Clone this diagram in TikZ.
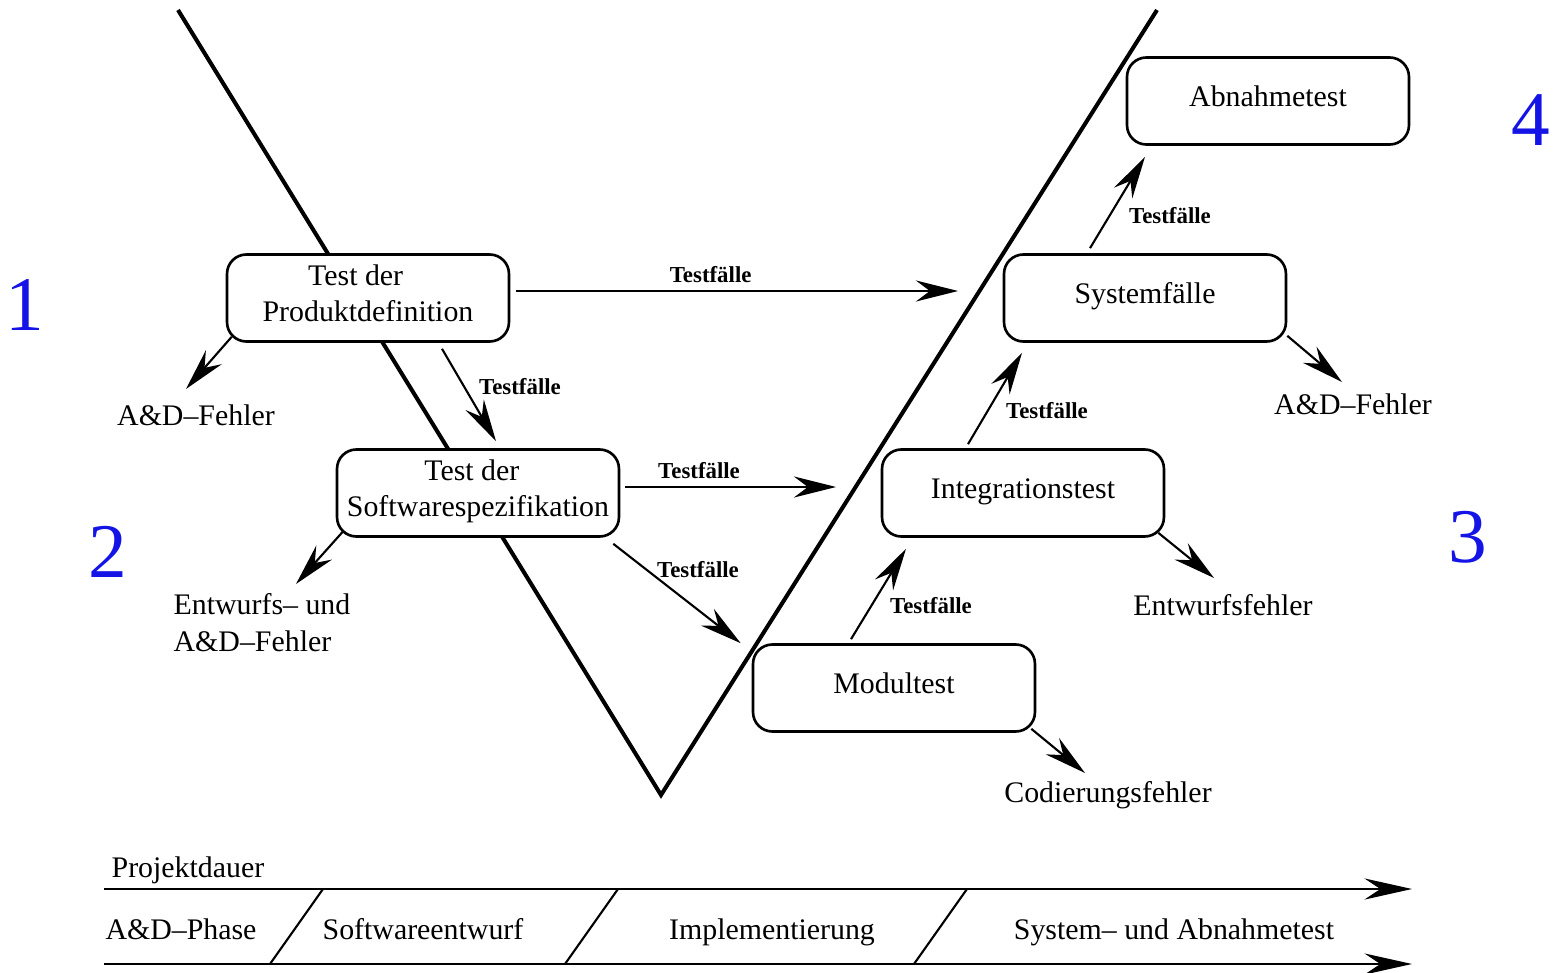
\documentclass[tikz,border=0pt]{standalone}
\usepackage{fontspec}
\setmainfont{Liberation Serif}
\usepackage{xcolor}
\usetikzlibrary{positioning,calc,arrows.meta}
\definecolor{numblue}{HTML}{1414E6}

\begin{document}
\begin{tikzpicture}[x=0.02cm, y=-0.02cm,
  box/.style={draw, line width=1.5pt, rounded corners=11pt, fill=white,
    minimum width=5.64cm, minimum height=1.74cm, inner sep=0pt, align=center,
    text depth=5.5pt, font=\fontsize{17}{21}\selectfont},
  arr/.style={line width=1.2pt, -{Stealth[length=24pt, width=12pt, inset=8pt]}},
  lbl/.style={inner sep=0pt, font=\fontsize{17}{21}\selectfont},
  tf/.style={inner sep=0pt, font=\fontsize{13}{15}\selectfont\bfseries},
  num/.style={inner sep=0pt, text=numblue, font=\fontsize{44}{50}\selectfont}]

  \useasboundingbox (0,0) rectangle (1556,973);

  % The V
  \draw[line width=2.3pt] (178,10) -- (661,795) -- (1157,10);

  % Test boxes
  \node[box] (pd) at (368,298) {Test der\hspace*{14pt}\\Produktdefinition};
  \node[box] (sw) at (478,493) {Test der\hspace*{7pt}\\Softwarespezifikation};
  \node[box] (mt) at (894,688) {Modultest};
  \node[box] (it) at (1023,493) {Integrationstest};
  \node[box] (sf) at (1145,298) {Systemfälle};
  \node[box] (ab) at (1268,101) {Abnahmetest};

  % Error labels
  \node[lbl] (f1) at (196,415) {A\&D--Fehler};
  \node[lbl, align=left] (f2) at (262,623) {Entwurfs-- und\\A\&D--Fehler};
  \node[lbl] (f3) at (1108,795) {Codierungsfehler};
  \node[lbl] (f4) at (1223,605) {Entwurfsfehler};
  \node[lbl] (f5) at (1353,404) {A\&D--Fehler};

  % Free arrow ends
  \coordinate (e1) at (958,291);
  \coordinate (e2) at (836,487);
  \coordinate (e3) at (186,389);
  \coordinate (e4) at (296,584);
  \coordinate (e5) at (1085,773);
  \coordinate (e6) at (1214,578);
  \coordinate (e7) at (1342,382);

  % Testfaelle arrows
  \draw[arr] ([shift={(6,-7)}]pd.east) -- (e1) node[tf, pos=0.44, above=4pt] (t1) {Testfälle};
  \draw[arr] ([shift={(74,6)}]pd.south) -- ([shift={(18,-7)}]sw.north);
  \node[tf] (t2) at (520,387) {Testfälle};
  \draw[arr] ([shift={(5,-6)}]sw.east) -- (e2) node[tf, pos=0.35, above=4pt] (t3) {Testfälle};
  \draw[arr] ([shift={(-7,6)}]sw.south east) -- ([shift={(-11,0)}]mt.north west);
  \node[tf] (t4) at (698,570) {Testfälle};
  \draw[arr] ([shift={(-43,-4)}]mt.north) -- ([shift={(-117,11)}]it.south);
  \node[tf] (t5) at (931,606) {Testfälle};
  \draw[arr] ([shift={(-55,-4)}]it.north) -- ([shift={(-123,10)}]sf.south);
  \node[tf] (t6) at (1047,411) {Testfälle};
  \draw[arr] ([shift={(-55,-5)}]sf.north) -- ([shift={(-123,11)}]ab.south);
  \node[tf] (t7) at (1170,216) {Testfälle};

  % Error arrows
  \draw[arr] ([shift={(6,-6)}]pd.south west) -- (e3);
  \draw[arr] ([shift={(7,-6)}]sw.south west) -- (e4);
  \draw[arr] ([shift={(-5,-4)}]mt.south east) -- (e5);
  \draw[arr] ([shift={(-7,-5)}]it.south east) -- (e6);
  \draw[arr] ([shift={(0,-7)}]sf.south east) -- (e7);

  % Phase numbers
  \node[num] (n1) at (25,305) {1};
  \node[num] (n2) at (108,552) {2};
  \node[num] (n3) at (1468,537) {3};
  \node[num] (n4) at (1531,120) {4};

  % Project duration bar
  \coordinate (p0) at (104,889);
  \coordinate (p1) at (1412,889);
  \coordinate (q0) at (104,964);
  \coordinate (q1) at (1412,964);
  \draw[line width=1.7pt, -{Stealth[length=27pt, width=12pt, inset=9pt]}] (p0) -- (p1);
  \draw[line width=1.7pt, -{Stealth[length=27pt, width=12pt, inset=9pt]}] (q0) -- (q1);
  \foreach \x in {323,618,967} {
    \draw[line width=1.2pt] (\x,889) -- ({\x-53},964);
  }
  \node[lbl, anchor=base] (pdur) at (188,877) {Projektdauer};
  \node[lbl, anchor=base] (ph1) at (181,939) {A\&D--Phase};
  \node[lbl, anchor=base] (ph2) at (423,939) {Softwareentwurf};
  \node[lbl, anchor=base] (ph3) at (772,939) {Implementierung};
  \node[lbl, anchor=base] (ph4) at (1174,939) {System-- und Abnahmetest};
\end{tikzpicture}
\end{document}
